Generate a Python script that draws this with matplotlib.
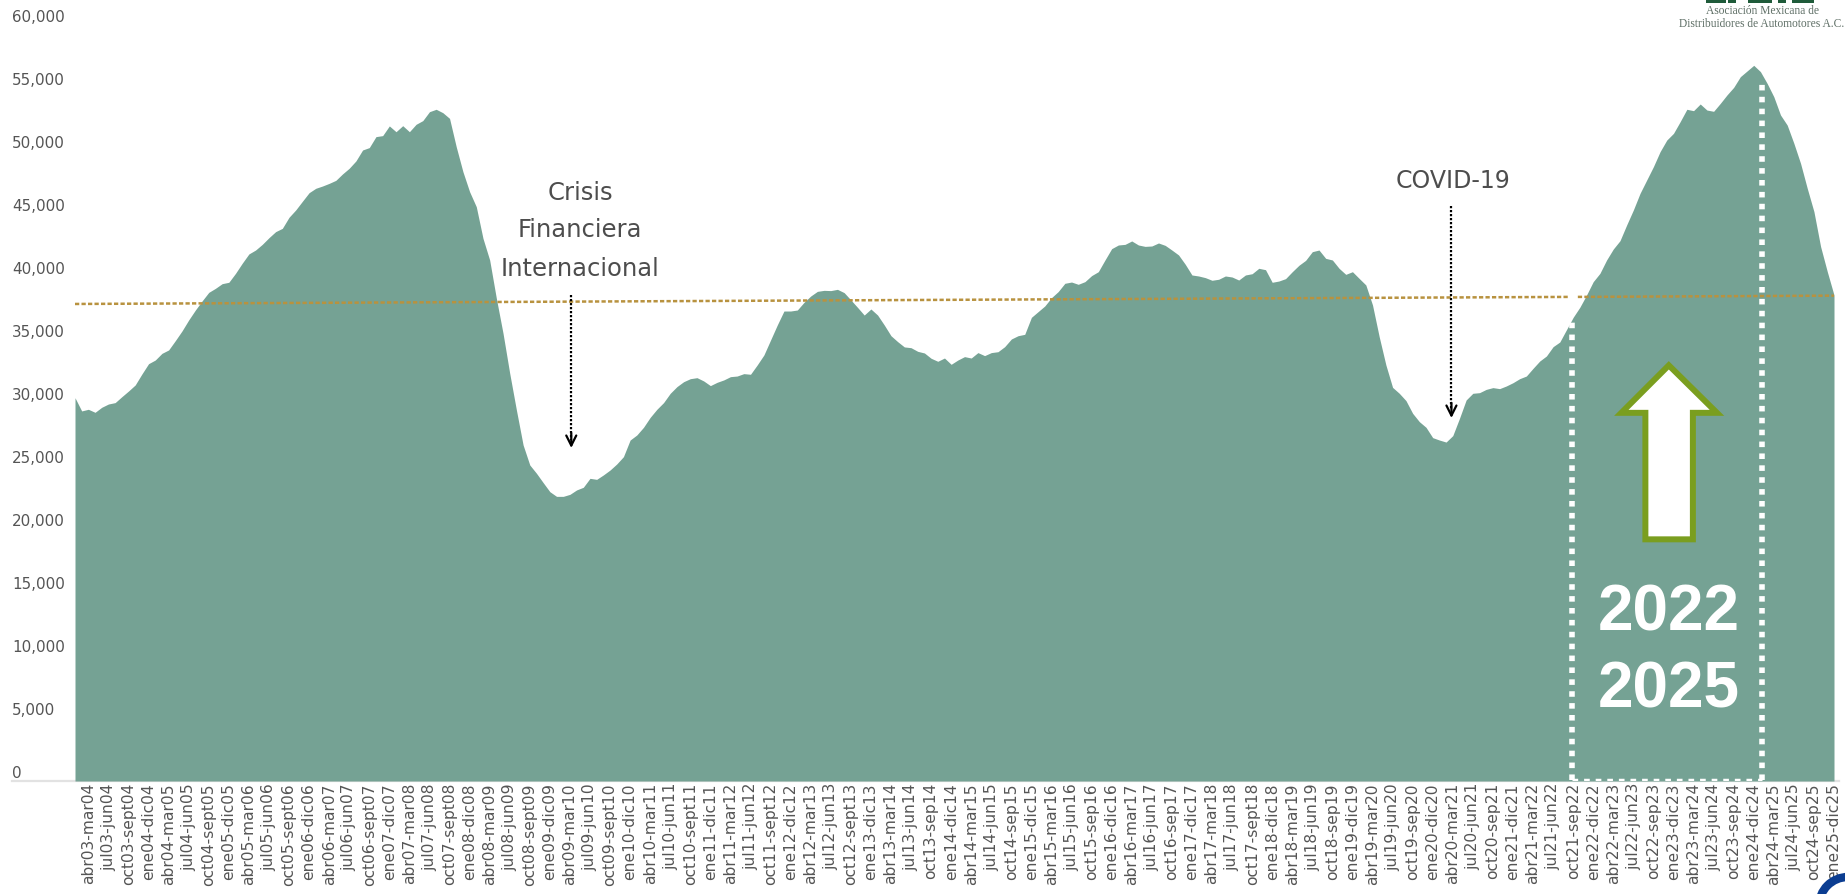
import matplotlib
matplotlib.use('Agg')
import matplotlib.pyplot as plt
from matplotlib.patches import Polygon, Circle, Rectangle
from matplotlib.transforms import ScaledTranslation, IdentityTransform

ventas = [
    30420, 29370, 29500, 29260, 29660, 29920, 30030, 30500, 30950, 31430, 32300, 33120,
    33410, 33940, 34210, 34950, 35720, 36590, 37380, 38100, 38780, 39100, 39470, 39580,
    40290, 41090, 41830, 42140, 42590, 43120, 43600, 43860, 44740, 45320, 46010, 46690,
    47040, 47220, 47430, 47670, 48180, 48630, 49210, 50080, 50270, 51140, 51220, 51990,
    51530, 52010, 51530, 52120, 52410, 53120, 53310, 53040, 52590, 50340, 48360, 46770,
    45580, 43070, 41350, 38310, 35530, 32350, 29440, 26670, 25080, 24420, 23680, 22960,
    22590, 22590, 22750, 23100, 23310, 24020, 23940, 24290, 24680, 25160, 25740, 27060,
    27460, 28070, 28860, 29500, 30030, 30770, 31300, 31690, 31930, 32010, 31750, 31380,
    31640, 31830, 32090, 32140, 32330, 32280, 33020, 33810, 35000, 36190, 37300, 37300,
    37380, 37990, 38490, 38860, 38940, 38920, 39020, 38760, 38180, 37590, 36980, 37460,
    36980, 36190, 35340, 34870, 34450, 34390, 34100, 33970, 33550, 33310, 33570, 33070,
    33410, 33680, 33570, 34000, 33760, 34000, 34070, 34470, 35080, 35340, 35450, 36800,
    37250, 37700, 38360, 38840, 39500, 39600, 39420, 39630, 40110, 40420, 41350, 42250,
    42540, 42590, 42860, 42540, 42430, 42460, 42700, 42510, 42140, 41750, 41010, 40160,
    40080, 39950, 39740, 39820, 40080, 40000, 39760, 40160, 40260, 40690, 40580, 39580,
    39680, 39870, 40420, 40930, 41320, 42010, 42140, 41480, 41350, 40690, 40210, 40420,
    39890, 39370, 37780, 35260, 33020, 31240, 30770, 30190, 29180, 28520, 28070, 27250,
    27060, 26900, 27410, 28780, 30240, 30770, 30820, 31080, 31220, 31140, 31350, 31610,
    31930, 32140, 32750, 33330, 33730, 34470, 34840, 35820, 36800, 37600, 38570, 39630,
    40290, 41350, 42220, 42880, 44130, 45320, 46640, 47700, 48760, 49950, 50870, 51400,
    52330, 53310, 53200, 53730, 53250, 53150, 53780, 54450, 55050, 55900, 56350, 56800,
    56300, 55370, 54310, 52860, 52060, 50610, 49020, 47040, 45190, 42410, 40420, 38570,
]

etiquetas = [
    'abr03-mar04', 'jul03-jun04', 'oct03-sept04', 'ene04-dic04', 'abr04-mar05', 'jul04-jun05',
    'oct04-sept05', 'ene05-dic05', 'abr05-mar06', 'jul05-jun06', 'oct05-sept06', 'ene06-dic06',
    'abr06-mar07', 'jul06-jun07', 'oct06-sept07', 'ene07-dic07', 'abr07-mar08', 'jul07-jun08',
    'oct07-sept08', 'ene08-dic08', 'abr08-mar09', 'jul08-jun09', 'oct08-sept09', 'ene09-dic09',
    'abr09-mar10', 'jul09-jun10', 'oct09-sept10', 'ene10-dic10', 'abr10-mar11', 'jul10-jun11',
    'oct10-sept11', 'ene11-dic11', 'abr11-mar12', 'jul11-jun12', 'oct11-sept12', 'ene12-dic12',
    'abr12-mar13', 'jul12-jun13', 'oct12-sept13', 'ene13-dic13', 'abr13-mar14', 'jul13-jun14',
    'oct13-sep14', 'ene14-dic14', 'abr14-mar15', 'jul14-jun15', 'oct14-sep15', 'ene15-dic15',
    'abr15-mar16', 'jul15-jun16', 'oct15-sep16', 'ene16-dic16', 'abr16-mar17', 'jul16-jun17',
    'oct16-sep17', 'ene17-dic17', 'abr17-mar18', 'jul17-jun18', 'oct17-sept18', 'ene18-dic18',
    'abr18-mar19', 'jul18-jun19', 'oct18-sep19', 'ene19-dic19', 'abr19-mar20', 'jul19-jun20',
    'oct19-sep20', 'ene20-dic20', 'abr20-mar21', 'jul20-jun21', 'oct20-sep21', 'ene21-dic21',
    'abr21-mar22', 'jul21-jun22', 'oct21-sep22', 'ene22-dic22', 'abr22-mar23', 'jul22-jun23',
    'oct22-sep23', 'ene23-dic23', 'abr23-mar24', 'jul23-jun24', 'oct23-sep24', 'ene24-dic24',
    'abr24-mar25', 'jul24-jun25', 'oct24-sep25', 'ene25-dic25',
]

y_ticks = [0, 5000, 10000, 15000, 20000, 25000, 30000, 35000, 40000, 45000, 50000, 55000, 60000]
promedio = [37860, 38520]

GRIS = '#555555'
VERDE = '#75A294'
ORO = '#B8923F'

W, H = 1845, 894
BASE = 781  # pixel row of the zero line

fig = plt.figure(figsize=(W / 100, H / 100), dpi=100)
ax = fig.add_axes([75 / W, (H - BASE) / H, (1834 - 75) / W, BASE / H])

meses = list(range(len(ventas)))
ax.fill_between(meses, 0, ventas, color=VERDE, linewidth=0, zorder=1)

ax.set_xlim(0, len(ventas) - 1)
ax.set_ylim(0, BASE * 5000 / 63)
for s in ax.spines.values():
    s.set_visible(False)

# baseline runs past the plot on both sides
ax.axhline(0, xmin=-0.036, xmax=1.003, color='#E2E2E2', lw=1.6, clip_on=False, zorder=0)

# y labels sit a bit above their real level in the original
ax.set_yticks(y_ticks)
ax.set_yticklabels([f'{v:,}' for v in y_ticks], fontsize=10.9, color=GRIS, ha='left')
ax.tick_params(axis='y', length=0, pad=45.4)
subir = ScaledTranslation(0, 9.3 / 100, fig.dpi_scale_trans)
for lab in ax.get_yticklabels():
    lab.set_transform(lab.get_transform() + subir)

ax.set_xticks(meses[2::3])
ax.set_xticklabels(etiquetas, rotation=90, fontsize=11.2, color=GRIS, va='top', ha='center')
ax.tick_params(axis='x', length=0, pad=1.5)

# average line, with the small gap near the box
corte = 223.3
medio = promedio[0] + (promedio[1] - promedio[0]) * corte / meses[-1]
ax.plot([0, corte], [promedio[0], medio], color=ORO, lw=1.8, ls=(0, (1.7, 0.9)), zorder=3)
ax.plot([corte + 1.4, meses[-1]], [medio, promedio[1]], color=ORO, lw=1.8, ls=(0, (1.7, 0.9)), zorder=3)

# dotted white box 2022-2025
ax.plot([223.9, 223.9], [80, 36590], color='white', lw=4, ls=(0, (1, 1.14)), zorder=4)
ax.plot([252.3, 252.3], [80, 55710], color='white', lw=4, ls=(0, (1, 1.14)), zorder=4)
ax.plot([223.9, 252.3], [110, 110], color='white', lw=2.5, ls=(0, (1.63, 1.71)), zorder=4)

# big arrow
flecha = [(238.3, 32990), (245.5, 29220), (241.9, 29220), (241.9, 19180),
          (234.8, 19180), (234.8, 29220), (231.2, 29220)]
ax.add_patch(Polygon(flecha, closed=True, facecolor='white', edgecolor='#7A9E1F',
                     lw=4.3, joinstyle='miter', zorder=5))

ax.text(238.35, 13320, '2022', color='white', fontsize=46, fontweight='bold',
        family='Liberation Sans', ha='center', va='center', zorder=5)
ax.text(238.35, 7210, '2025', color='white', fontsize=46, fontweight='bold',
        family='Liberation Sans', ha='center', va='center', zorder=5)

# notes
for txt, y in [('Crisis', 46690), ('Financiera', 43750), ('Internacional', 40640)]:
    ax.text(75.5, y, txt, color='#4D4D4D', fontsize=17.5, ha='center', va='center', zorder=6)
ax.text(206, 47600, 'COVID-19', color='#4D4D4D', fontsize=17, ha='center', va='center', zorder=6)

for x, y0, y1 in [(74.2, 38570, 26430), (205.8, 45640, 28810)]:
    ax.plot([x, x], [y0, y1 + 600], color='black', lw=1.6, ls=(0, (1, 0.8)), zorder=6)
    ax.annotate('', xy=(x, y1), xytext=(x, y1 + 1200), zorder=6,
                arrowprops=dict(arrowstyle='->', color='black', lw=1.6, mutation_scale=18,
                                shrinkA=0, shrinkB=0))

# logo corner, the picture is cut through the logo
fig.text(1762 / W, 1 - 11 / H, 'Asociación Mexicana de', family='Liberation Serif', fontsize=8.3,
         color='#5F6F66', ha='center', va='center')
fig.text(1762 / W, 1 - 24 / H, 'Distribuidores de Automotores A.C.', family='Liberation Serif',
         fontsize=8.3, color='#5F6F66', ha='center', va='center')
for x0, ancho in [(1706, 20), (1728, 8), (1748, 24), (1778, 8), (1792, 22)]:
    fig.add_artist(Rectangle((x0, H - 3), ancho, 3, transform=IdentityTransform(),
                             facecolor='#1F5B3A', linewidth=0))
fig.add_artist(Circle((1848, -12), 29, transform=IdentityTransform(), fill=False,
                      edgecolor='#0B3D91', lw=6))

fig.savefig('out.png', dpi=100)
